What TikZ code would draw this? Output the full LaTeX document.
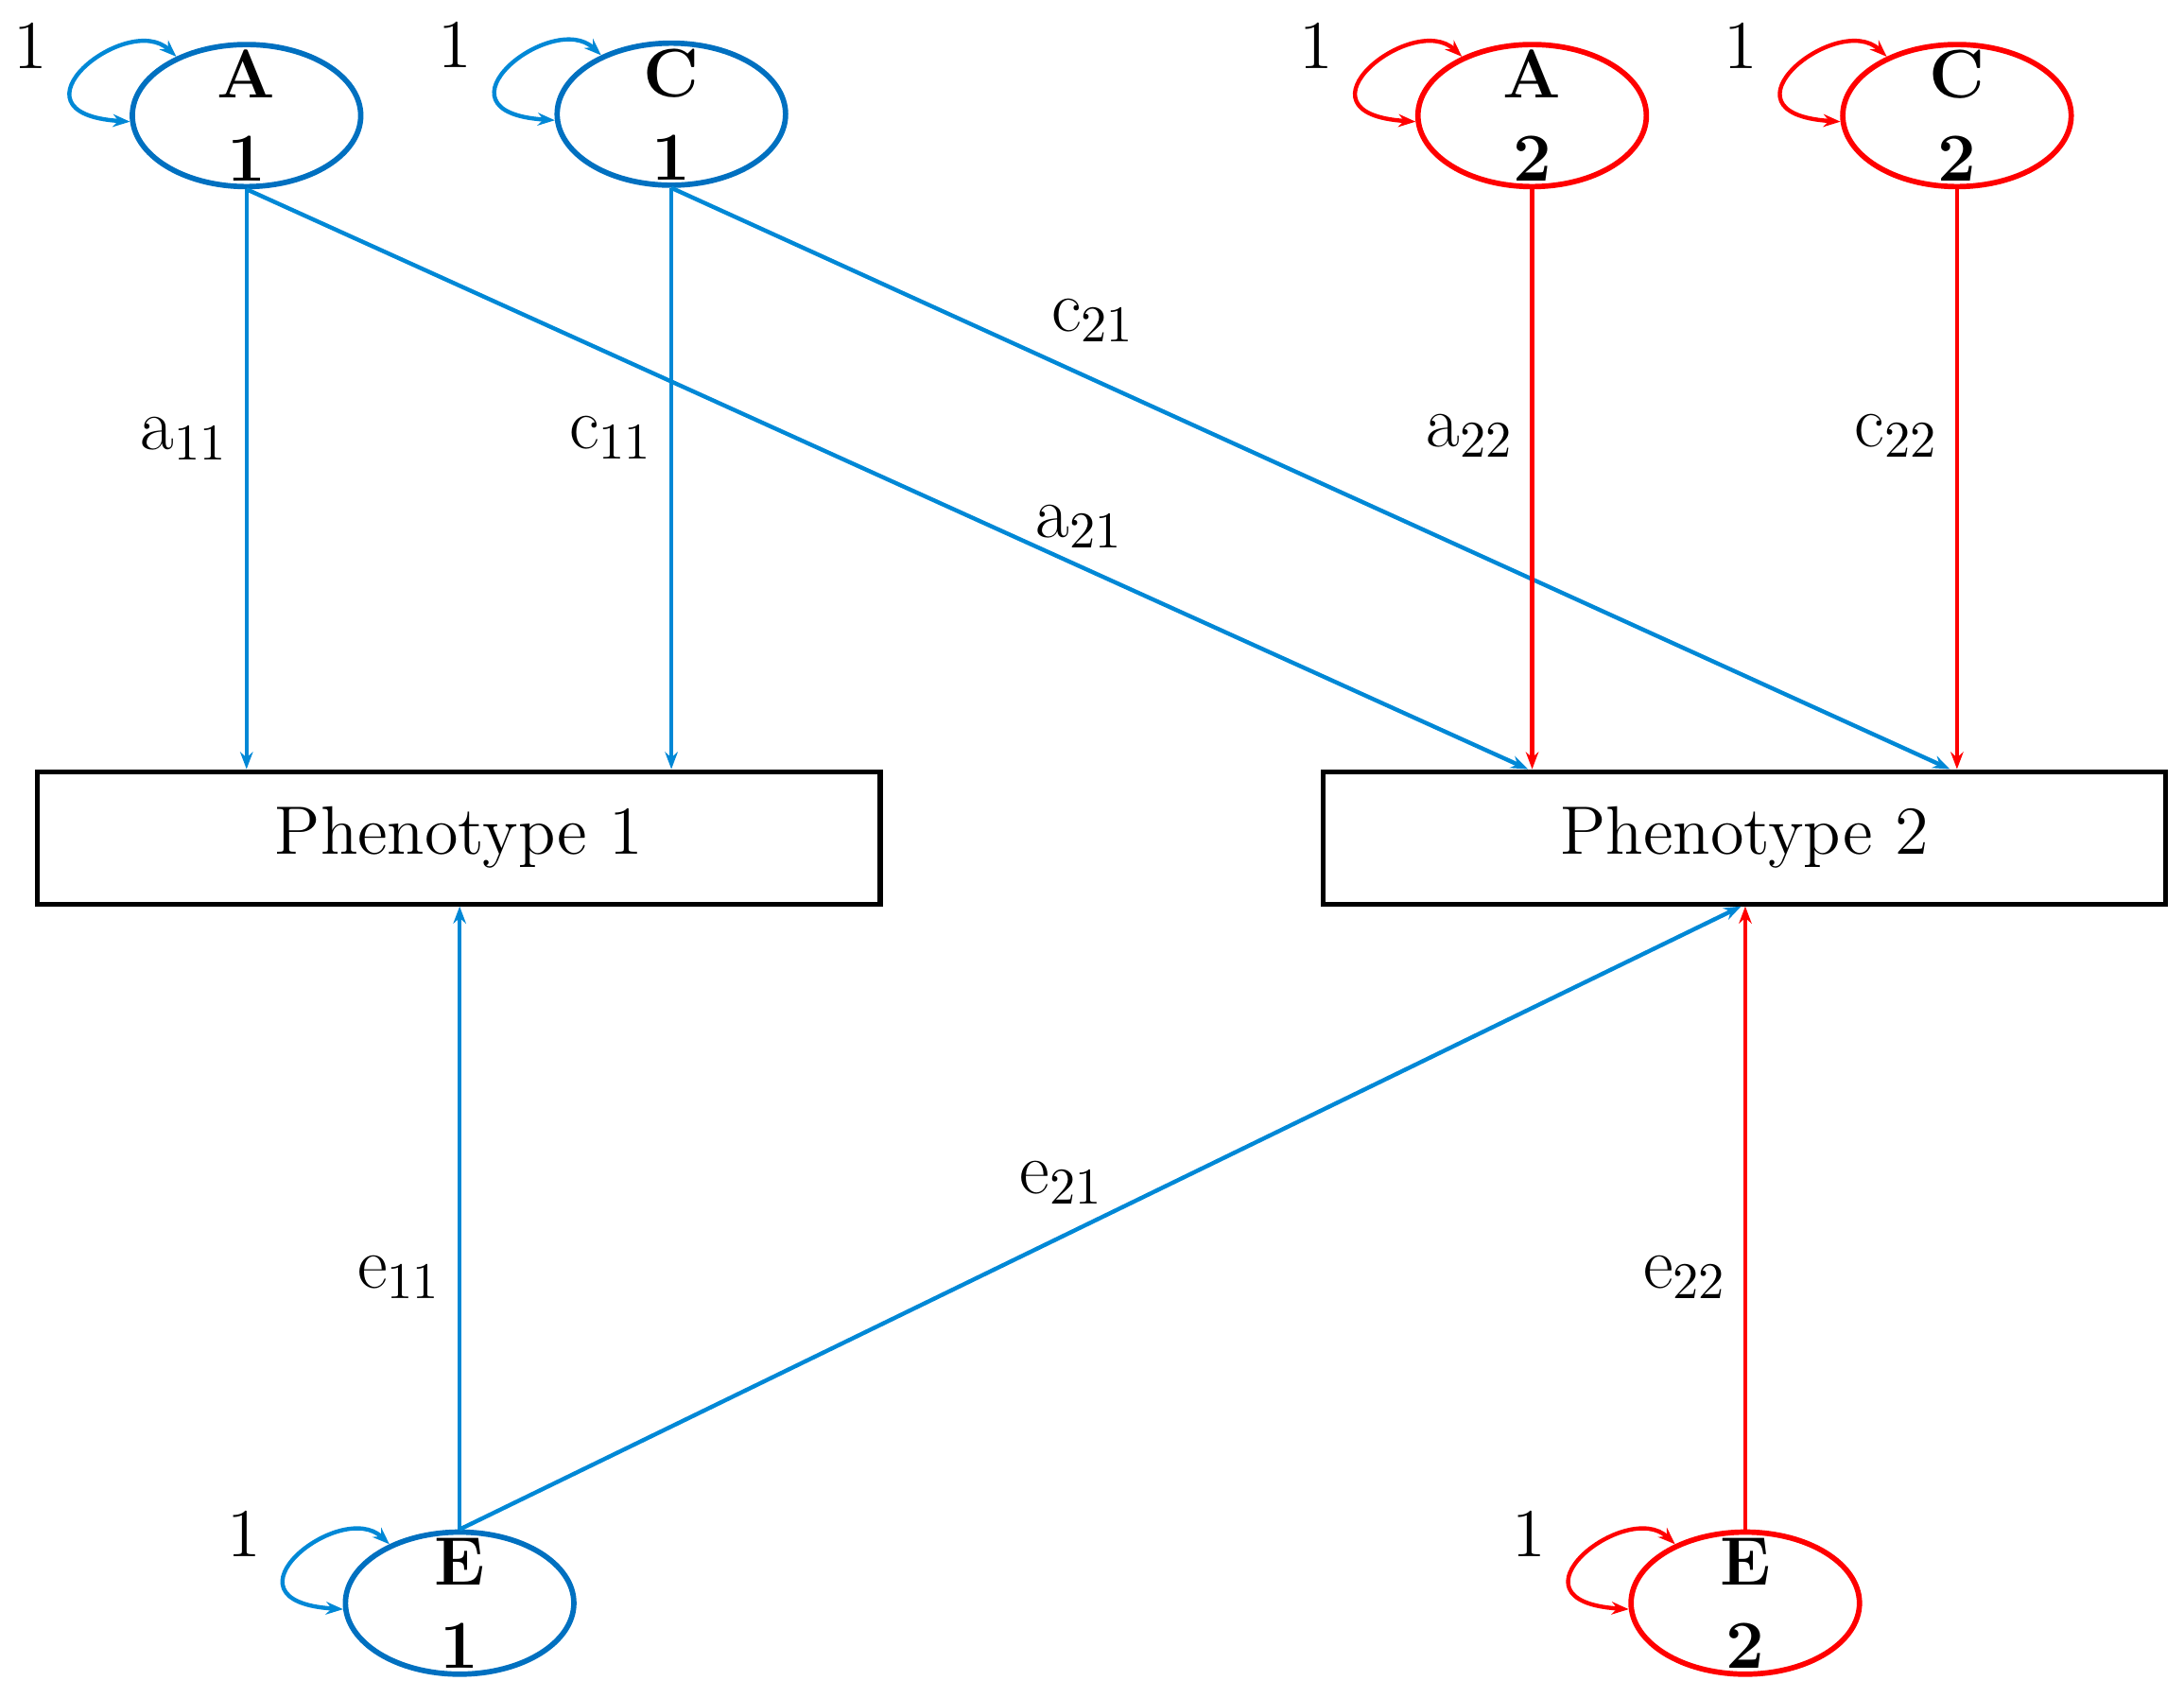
\documentclass[tikz,border=0pt]{standalone}
\usepackage{fontspec}
\usepackage{tikz}
\definecolor{myblue}{RGB}{0,112,192}
\definecolor{lineblue}{RGB}{0,136,214}
\definecolor{myred}{RGB}{255,0,0}
\usetikzlibrary{arrows.meta,positioning,shapes,calc}

\begin{document}
\begin{tikzpicture}[
        latent/.style={draw,ellipse,line width=1.1pt,minimum width=1.64cm,minimum height=1.02cm,inner sep=0pt},
        bluenode/.style={draw=myblue},
        rednode/.style={draw=myred},
        lbl/.style={font=\fontsize{14}{17}\selectfont\bfseries,align=center,inner sep=0pt},
        pheno/.style={draw,rectangle,line width=1pt,minimum width=6.05cm,minimum height=0.95cm,font=\fontsize{14}{17}\selectfont},
        causal/.style={line width=0.85pt,-{Stealth[length=3.5pt,width=2.6pt]}},
        varloop/.style={line width=0.85pt,{Stealth[length=3.5pt,width=2.6pt]}-{Stealth[length=3.5pt,width=2.6pt]}},
        coef/.style={font=\fontsize{15}{18}\selectfont,text=black},
        unitlbl/.style={font=\fontsize{14}{17}\selectfont}
        ]
        \useasboundingbox (0,0) rectangle (15.68,12.19);

        % the factors of phenotype 1
        \node[latent,bluenode] (A1) at (1.77,11.36) {};
        \node[lbl] (A1t) at (A1) {A\\1};
        \node[latent,bluenode] (C1) at (4.82,11.37) {};
        \node[lbl] (C1t) at (C1) {C\\1};
        \node[latent,bluenode] (E1) at (3.30,0.68) {};
        \node[lbl] (E1t) at (E1) {E\\1};

        % the factors of phenotype 2
        \node[latent,rednode] (A2) at (11.00,11.36) {};
        \node[lbl] (A2t) at (A2) {A\\2};
        \node[latent,rednode] (C2) at (14.05,11.36) {};
        \node[lbl] (C2t) at (C2) {C\\2};
        \node[latent,rednode] (E2) at (12.53,0.68) {};
        \node[lbl] (E2t) at (E2) {E\\2};

        % the phenotypes
        \node[pheno] (P1) at (3.295,6.175) {Phenotype 1};
        \node[pheno] (P2) at (12.525,6.175) {Phenotype 2};

        % the variances
        \draw[varloop,lineblue] (A1.140) .. controls +(-0.35,0.33) and +(-0.94,0.06) .. (A1.183);
        \draw[varloop,lineblue] (C1.140) .. controls +(-0.35,0.33) and +(-0.94,0.06) .. (C1.183);
        \draw[varloop,lineblue] (E1.140) .. controls +(-0.35,0.33) and +(-0.94,0.06) .. (E1.183);
        \draw[varloop,myred] (A2.140) .. controls +(-0.35,0.33) and +(-0.94,0.06) .. (A2.183);
        \draw[varloop,myred] (C2.140) .. controls +(-0.35,0.33) and +(-0.94,0.06) .. (C2.183);
        \draw[varloop,myred] (E2.140) .. controls +(-0.35,0.33) and +(-0.94,0.06) .. (E2.183);
        \node[unitlbl] (vA1) at ($(A1)+(-1.55,0.5)$) {1};
        \node[unitlbl] (vC1) at ($(C1)+(-1.55,0.5)$) {1};
        \node[unitlbl] (vE1) at ($(E1)+(-1.55,0.5)$) {1};
        \node[unitlbl] (vA2) at ($(A2)+(-1.55,0.5)$) {1};
        \node[unitlbl] (vC2) at ($(C2)+(-1.55,0.5)$) {1};
        \node[unitlbl] (vE2) at ($(E2)+(-1.55,0.5)$) {1};

        % the paths
        \draw[causal,lineblue] (A1.south) -- node[coef,left,pos=0.43] {a\textsubscript{11}} (A1.south |- P1.north);
        \draw[causal,lineblue] (C1.south) -- node[coef,left,pos=0.43] {c\textsubscript{11}} (C1.south |- P1.north);
        \draw[causal,lineblue] (A1.south) -- node[coef,above,pos=0.65] {a\textsubscript{21}} ([xshift=-0.03cm]A2.south |- P2.north);
        \draw[causal,lineblue] (C1.south) -- node[coef,above=0.14cm,pos=0.33] {c\textsubscript{21}} ([xshift=-0.05cm]C2.south |- P2.north);
        \draw[causal,myred] (A2.south) -- node[coef,left,pos=0.425] {a\textsubscript{22}} (A2.south |- P2.north);
        \draw[causal,myred] (C2.south) -- node[coef,left,pos=0.425] {c\textsubscript{22}} (C2.south |- P2.north);
        \draw[causal,lineblue] (E1.north) -- node[coef,left,pos=0.405] {e\textsubscript{11}} (E1.north |- P1.south);
        \draw[causal,lineblue] (E1.north) -- node[coef,above=0.1cm,pos=0.47] {e\textsubscript{21}} ([xshift=-0.03cm]E2.north |- P2.south);
        \draw[causal,myred] (E2.north) -- node[coef,left,pos=0.405] {e\textsubscript{22}} (E2.north |- P2.south);
\end{tikzpicture}
\end{document}
